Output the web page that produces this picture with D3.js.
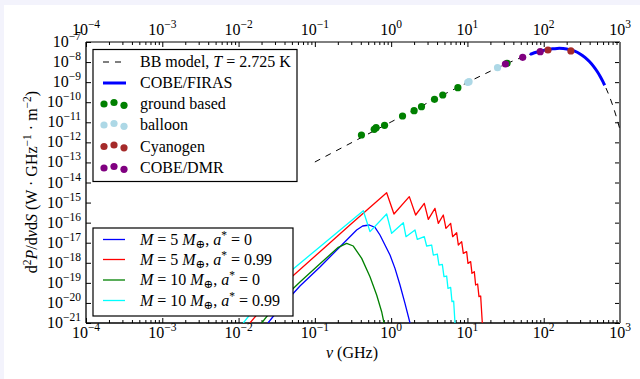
<!DOCTYPE html>
<html><head><meta charset="utf-8">
<script src="https://cdn.jsdelivr.net/npm/d3@7"></script>
<style>
html,body{margin:0;padding:0;background:#f3f3fc;}
svg{display:block;}
text{font-family:"Liberation Serif","DejaVu Serif",serif;fill:#000;}
</style></head>
<body>
<svg id="c" width="640" height="379"></svg>
<script>
// ---------------- data ----------------
const xTicks = [1e-4,1e-3,1e-2,1e-1,1e0,1e1,1e2,1e3];
const xTickExp = ["−4","−3","−2","−1","0","1","2","3"];
const yTicks = [1e-21,1e-20,1e-19,1e-18,1e-17,1e-16,1e-15,1e-14,1e-13,1e-12,1e-11,1e-10,1e-9,1e-8,1e-7];
const yTickExp = ["−21","−20","−19","−18","−17","−16","−15","−14","−13","−12","−11","−10","−9","−8","−7"];

// BB model, T = 2.725 K  [GHz, W GHz^-1 m^-2]
const bbFreq = [0.1,1,5,10,20,30,40,50,60,70,80,100,120,130,150,160,180,200,250,300,350,400,450,500,550,600,650,700,800,900,1000];
const bbVal  = [1.05e-13,1.043e-11,2.516e-10,9.62e-10,3.51e-9,7.19e-9,1.16e-8,1.64e-8,2.13e-8,2.61e-8,3.07e-8,3.84e-8,4.40e-8,4.59e-8,4.80e-8,4.82e-8,4.74e-8,4.51e-8,3.59e-8,2.55e-8,1.67e-8,1.03e-8,6.1e-9,3.47e-9,1.92e-9,1.03e-9,5.4e-10,2.8e-10,7.2e-11,1.76e-11,4.2e-12];

// COBE/FIRAS
const firasFreq = [66,70,80,100,120,130,150,160,180,200,250,300,350,400,450,500,550,600,630];
const firasVal  = [2.42e-8,2.61e-8,3.07e-8,3.84e-8,4.40e-8,4.59e-8,4.80e-8,4.82e-8,4.74e-8,4.51e-8,3.59e-8,2.55e-8,1.67e-8,1.03e-8,6.1e-9,3.47e-9,1.92e-9,1.03e-9,7.0e-10];

const groundFreq = [0.408,0.6,0.635,0.82,1.41,2.0,2.5,3.7,4.75,7.5,33];
const groundVal  = [2.32e-12,4.47e-12,5.37e-12,7.08e-12,2.06e-11,3.78e-11,5.97e-11,1.40e-10,2.29e-10,5.28e-10,8.7e-9];
const balloonFreq = [10.1,10.5,24.8];
const balloonVal  = [9.8e-10,1.05e-9,5.25e-9];
const cyanFreq = [113.6,227];
const cyanVal  = [3.99e-8,3.6e-8];
const dmrFreq = [31.5,53,90];
const dmrVal  = [8.0e-9,1.73e-8,3.29e-8];

// black-hole spectra
const bh1Freq = [0.0243,0.0349,0.0638,0.1167,0.353,0.423,0.517,0.614,0.714,0.830,0.966,1.123,1.306,1.518,1.766];
const bh1Val  = [1e-21,5.57e-21,6.97e-20,6.2e-19,4.30e-17,6.79e-17,7.62e-17,5.83e-17,2.42e-17,7.68e-18,2.44e-18,5.28e-19,7.80e-20,9.52e-21,1e-21];
const bh2Freq = [0.0141,0.0191,0.0405,0.1167,0.288,0.873,1.089,1.730,2.095,2.720,3.070,3.755,4.153,4.829,5.234,6.026,6.400,7.224,7.597,8.400,8.831,9.765,10.17,11.02,11.47,12.31,12.81,13.61,14.17,14.91,15.67];
const bh2Val  = [1e-21,4.0e-21,9.8e-20,3.57e-18,7.6e-17,3.11e-15,2.69e-16,1.97e-15,2.40e-16,9.15e-16,1.46e-16,5.16e-16,9.23e-17,2.40e-16,5.20e-17,9.23e-17,2.00e-17,3.16e-17,7.68e-18,1.13e-17,2.95e-18,3.57e-18,9.37e-19,1.14e-18,2.98e-19,3.61e-19,7.81e-20,8.75e-20,2.05e-20,2.21e-20,1e-21];
const bh3Freq = [0.0201,0.0300,0.0638,0.1167,0.203,0.261,0.319,0.411,0.528,0.646,0.751,0.806];
const bh3Val  = [1e-21,7.0e-21,1.10e-19,9.0e-19,5.87e-18,9.3e-18,6.85e-18,1.66e-18,2.03e-19,2.48e-20,3.66e-21,1e-21];
const bh4Freq = [0.01153,0.0164,0.0349,0.1167,0.4316,0.528,0.873,1.015,1.444,1.565,2.054,2.203,2.720,2.920,3.396,3.570,4.030,4.236,4.686,4.927,5.341,5.559,6.026,6.273,6.598,6.868];
const bh4Val  = [1e-21,5.57e-21,1.39e-19,6.34e-18,3.94e-16,3.55e-17,2.69e-16,2.93e-17,9.96e-17,2.00e-17,4.30e-17,1.47e-17,2.00e-17,6.85e-18,7.68e-18,2.44e-18,2.73e-18,7.74e-19,8.36e-19,2.03e-19,2.19e-19,5.32e-20,5.97e-20,1.15e-20,1.24e-20,1e-21];

const bhSeries = [
  {f:bh1Freq,v:bh1Val,color:"#0000ff",m:"5",a:"0"},
  {f:bh2Freq,v:bh2Val,color:"#ff0000",m:"5",a:"0.99"},
  {f:bh3Freq,v:bh3Val,color:"#008000",m:"10",a:"0"},
  {f:bh4Freq,v:bh4Val,color:"#00ffff",m:"10",a:"0.99"}
];
const pointSeries = [
  {name:"ground based",f:groundFreq,v:groundVal,color:"#008000"},
  {name:"balloon",f:balloonFreq,v:balloonVal,color:"#add8e6"},
  {name:"Cyanogen",f:cyanFreq,v:cyanVal,color:"#a52a2a"},
  {name:"COBE/DMR",f:dmrFreq,v:dmrVal,color:"#800080"}
];

// ---------------- layout ----------------
const FS = 16, SS = 11.5;
const svg = d3.select("#c");
svg.append("rect").attr("x",4).attr("y",5).attr("width",636).attr("height",374).attr("fill","#fff");
const L=86,R=620,T=42,B=323;
const x = d3.scaleLog().domain([1e-4,1e3]).range([L,R]);
const y = d3.scaleLog().domain([1e-21,1e-7]).range([B,T]);

svg.append("clipPath").attr("id","clip").append("rect").attr("x",L).attr("y",T).attr("width",R-L).attr("height",B-T);

const minorX = [];
for(let e=-4;e<3;e++) for(let k=2;k<10;k++) minorX.push(k*Math.pow(10,e));

function axisG(ax, tx, ty){
  const g = svg.append("g").attr("transform",`translate(${tx},${ty})`).call(ax);
  g.select(".domain").remove();
  g.selectAll("line").attr("stroke","#000").attr("stroke-width",1);
  g.selectAll("text").remove();
  return g;
}
axisG(d3.axisBottom(x).tickValues(xTicks).tickSize(-5).tickFormat(""),0,B);
axisG(d3.axisBottom(x).tickValues(minorX).tickSize(-3).tickFormat(""),0,B);
axisG(d3.axisTop(x).tickValues(xTicks).tickSize(-5).tickFormat(""),0,T);
axisG(d3.axisTop(x).tickValues(minorX).tickSize(-3).tickFormat(""),0,T);
axisG(d3.axisLeft(y).tickValues(yTicks).tickSize(-5).tickFormat(""),L,0);
axisG(d3.axisRight(y).tickValues(yTicks).tickSize(-5).tickFormat(""),R,0);

// tick labels
function powLabel(g, px, py, exp, anchor){
  const t = g.append("text").attr("x",px).attr("y",py).attr("text-anchor",anchor).style("font-size",FS+"px");
  t.append("tspan").text("10");
  t.append("tspan").attr("dy",-7).style("font-size",SS+"px").text(exp);
  return t;
}
const lab = svg.append("g");
xTicks.forEach((v,i)=>{ powLabel(lab, x(v), B+15, xTickExp[i], "middle"); powLabel(lab, x(v), T-7, xTickExp[i], "middle"); });
yTicks.forEach((v,i)=>{ powLabel(lab, L-5, y(v)+5, yTickExp[i], "end"); });

// frame
svg.append("line").attr("x1",L).attr("x2",R).attr("y1",T).attr("y2",T).attr("stroke","#000");
svg.append("line").attr("x1",L).attr("x2",R).attr("y1",B).attr("y2",B).attr("stroke","#000").attr("stroke-width",1.3);
svg.append("line").attr("x1",L).attr("x2",L).attr("y1",T).attr("y2",B).attr("stroke","#000").attr("stroke-width",1.3);
svg.append("line").attr("x1",R).attr("x2",R).attr("y1",T).attr("y2",B).attr("stroke","#6e6e6e").attr("stroke-width",2);

// plot content
const plot = svg.append("g").attr("clip-path","url(#clip)");
const line = d3.line().x(d=>x(d[0])).y(d=>y(d[1]));
const lineSmooth = d3.line().x(d=>x(d[0])).y(d=>y(d[1])).curve(d3.curveMonotoneX);
const zip = (f,v)=>f.map((d,i)=>[d,v[i]]);

plot.append("path").attr("d",lineSmooth(zip(bbFreq,bbVal))).attr("fill","none").attr("stroke","#000").attr("stroke-width",1).attr("stroke-dasharray","6,6");
plot.append("path").attr("d",lineSmooth(zip(firasFreq,firasVal))).attr("fill","none").attr("stroke","#0000ff").attr("stroke-width",3);
bhSeries.forEach(s=>{
  plot.append("path").attr("d",line(zip(s.f,s.v))).attr("fill","none").attr("stroke",s.color).attr("stroke-width",1.3).attr("stroke-linejoin","round");
});
pointSeries.forEach(s=>{
  plot.selectAll(null).data(zip(s.f,s.v)).enter().append("circle")
    .attr("cx",d=>x(d[0])).attr("cy",d=>y(d[1])).attr("r",3.6).attr("fill",s.color);
});

// legend 1
const lg1 = svg.append("g");
lg1.append("rect").attr("x",93).attr("y",49.5).attr("width",204).attr("height",132).attr("fill","#fff").attr("stroke","#000").attr("stroke-width",1.2);
const rowY1 = [62,83,104,125,146.5,168];
lg1.append("line").attr("x1",103).attr("x2",126).attr("y1",rowY1[0]).attr("y2",rowY1[0]).attr("stroke","#000").attr("stroke-dasharray","6,6").attr("stroke-width",1.2);
lg1.append("line").attr("x1",103).attr("x2",126).attr("y1",rowY1[1]).attr("y2",rowY1[1]).attr("stroke","#0000ff").attr("stroke-width",3);
const t1 = lg1.append("text").attr("x",140).attr("y",rowY1[0]+5).style("font-size",FS+"px");
t1.append("tspan").text("BB model, ");
t1.append("tspan").style("font-style","italic").text("T");
t1.append("tspan").text(" = 2.725 K");
lg1.append("text").attr("x",140).attr("y",rowY1[1]+5).style("font-size",FS+"px").text("COBE/FIRAS");
pointSeries.forEach((s,i)=>{
  const yy = rowY1[i+2];
  [[104,0],[114,-1.5],[124,1.3]].forEach(o=>{
    lg1.append("circle").attr("cx",o[0]).attr("cy",yy+o[1]).attr("r",3.6).attr("fill",s.color);
  });
  lg1.append("text").attr("x",140).attr("y",yy+5).style("font-size",FS+"px").text(s.name);
});

// legend 2
const lg2 = svg.append("g");
lg2.append("rect").attr("x",93).attr("y",228).attr("width",200).attr("height",88).attr("fill","#fff").attr("stroke","#000").attr("stroke-width",1.2);
const rowY2 = [239.5,259.5,280,300.5];
bhSeries.forEach((s,i)=>{
  const yy=rowY2[i];
  lg2.append("line").attr("x1",103).attr("x2",125).attr("y1",yy).attr("y2",yy).attr("stroke",s.color).attr("stroke-width",1.3);
  const t = lg2.append("text").attr("x",140).attr("y",yy+5).style("font-size",FS+"px");
  t.append("tspan").style("font-style","italic").text("M");
  t.append("tspan").text(" = "+s.m+" ");
  t.append("tspan").style("font-style","italic").text("M");
  t.append("tspan").attr("dy",3).style("font-size",SS+"px").text("⊕");
  t.append("tspan").attr("dy",-3).text(", ");
  t.append("tspan").style("font-style","italic").text("a");
  t.append("tspan").attr("dy",-6).style("font-size",SS+"px").text("*");
  t.append("tspan").attr("dy",6).text(" = "+s.a);
});

// axis titles
const xl = svg.append("text").attr("x",352).attr("y",358).attr("text-anchor","middle").style("font-size",FS+"px");
xl.append("tspan").style("font-style","italic").text("ν");
xl.append("tspan").text(" (GHz)");
const yl = svg.append("text").attr("transform","translate(37,182) rotate(-90)").attr("text-anchor","middle").style("font-size",FS+"px");
yl.append("tspan").text("d");
yl.append("tspan").attr("dy",-6).style("font-size",SS+"px").text("2");
yl.append("tspan").attr("dy",6).style("font-style","italic").text("P");
yl.append("tspan").text("/d");
yl.append("tspan").style("font-style","italic").text("ν");
yl.append("tspan").text("d");
yl.append("tspan").style("font-style","italic").text("S");
yl.append("tspan").text(" (W · GHz");
yl.append("tspan").attr("dy",-6).style("font-size",SS+"px").text("−1");
yl.append("tspan").attr("dy",6).text(" · m");
yl.append("tspan").attr("dy",-6).style("font-size",SS+"px").text("−2");
yl.append("tspan").attr("dy",6).text(")");
</script>
</body></html>
